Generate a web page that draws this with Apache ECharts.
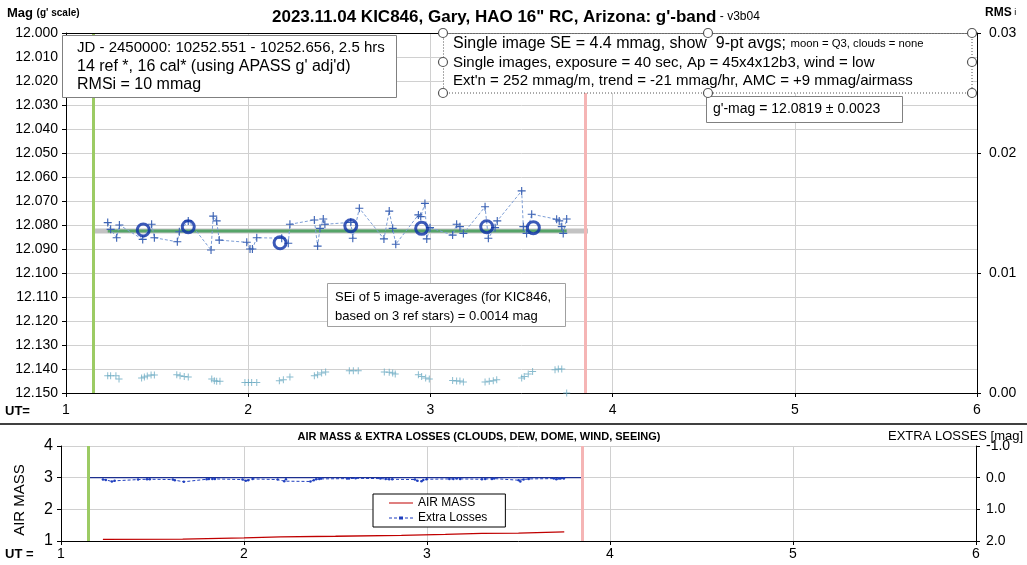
<!DOCTYPE html>
<html><head><meta charset="utf-8">
<script src="https://cdn.jsdelivr.net/npm/echarts@6/dist/echarts.min.js"></script>
<style>html,body{margin:0;padding:0;background:#fff}#c{width:1027px;height:565px}</style>
</head><body><div id="c"></div>
<script>
// ---- data ----
const obsUT = [1.229,1.245,1.278,1.293,1.421,1.470,1.485,1.611,1.622,1.671,1.796,1.808,1.827,1.841,1.992,2.010,2.023,2.047,2.184,2.220,2.229,2.363,2.381,2.394,2.412,2.421,2.563,2.574,2.610,2.745,2.774,2.793,2.810,2.934,2.947,2.970,2.980,2.998,3.122,3.144,3.162,3.181,3.300,3.318,3.355,3.367,3.501,3.510,3.528,3.556,3.693,3.707,3.721,3.729,3.748];
const obsMag = [12.0790,12.0818,12.0853,12.0800,12.0860,12.0797,12.0853,12.0870,12.0828,12.0783,12.0904,12.0763,12.0783,12.0863,12.0872,12.0900,12.0900,12.0853,12.0855,12.0876,12.0797,12.0779,12.0888,12.0814,12.0775,12.0797,12.0789,12.0855,12.0730,12.0858,12.0742,12.0814,12.0880,12.0758,12.0765,12.0710,12.0858,12.0811,12.0842,12.0797,12.0807,12.0835,12.0724,12.0855,12.0811,12.0783,12.0658,12.0807,12.0835,12.0755,12.0776,12.0783,12.0807,12.0835,12.0775];
const avgUT = [1.424,1.671,2.175,2.563,2.952,3.309,3.565];
const avgMag = [12.0821,12.0807,12.0874,12.0803,12.0814,12.0807,12.0811];
const rmsUT = [1.229,1.245,1.274,1.291,1.415,1.430,1.446,1.467,1.485,1.608,1.626,1.649,1.671,1.800,1.814,1.827,1.845,1.982,2.001,2.019,2.047,2.171,2.193,2.229,2.363,2.381,2.403,2.425,2.555,2.577,2.604,2.747,2.774,2.793,2.807,2.934,2.952,2.974,2.994,3.122,3.144,3.162,3.181,3.300,3.323,3.345,3.364,3.501,3.515,3.537,3.561,3.684,3.702,3.721,3.748];
const rmsVal = [0.00144,0.00144,0.00144,0.00117,0.00125,0.00133,0.00142,0.00150,0.00150,0.00153,0.00144,0.00138,0.00133,0.00117,0.00103,0.00097,0.00097,0.00088,0.00088,0.00088,0.00088,0.00103,0.00111,0.00133,0.00144,0.00153,0.00167,0.00175,0.00186,0.00186,0.00186,0.00175,0.00172,0.00167,0.00158,0.00153,0.00138,0.00125,0.00117,0.00105,0.00100,0.00100,0.00092,0.00092,0.00097,0.00103,0.00111,0.00125,0.00138,0.00158,0.00180,0.00194,0.00200,0.00200,0.00000];
const extraLoss = [0.06,0.07,0.12,0.10,0.06,0.05,0.05,0.06,0.08,0.13,0.05,0.04,0.04,0.04,0.06,0.10,0.08,0.04,0.06,0.11,0.05,0.12,0.08,0.05,0.04,0.03,0.03,0.03,0.02,0.03,0.04,0.05,0.05,0.06,0.10,0.11,0.07,0.05,0.04,0.04,0.03,0.04,0.05,0.04,0.04,0.03,0.08,0.12,0.06,0.04,0.03,0.05,0.03,0.03,0.03];
const amUT = [1.229,1.665,1.675,2.000,2.200,2.500,2.860,3.100,3.300,3.500,3.750];
const airMass = [1.05,1.06,1.09,1.10,1.13,1.15,1.18,1.21,1.24,1.25,1.29];
const startUT = 1.148, endUT = 3.85;
const meanMag = 12.0825;
const refUT = [1.148, 3.865];
const fitUT = [1.229, 3.748];
const magTicks = {min:12.0, max:12.15, step:0.01};
const rmsTicks = {min:0, max:0.03, step:0.01};

// ---- chart ----
const F = "'Liberation Sans', Arial, sans-serif";
const plus = 'path://M4.3,0H5.7V4.3H10V5.7H5.7V10H4.3V5.7H0V4.3H4.3Z';
const zip = (a,b) => a.map((v,i)=>[v,b[i]]);
const chart = echarts.init(document.getElementById('c'));
const axBlack = {show:true,onZero:false,lineStyle:{color:'#000',width:1}};
const tick = {show:true,length:4,lineStyle:{color:'#000'}};
const grayGrid = {show:true,lineStyle:{color:'#d0d0d0',width:1}};
const vlines = {silent:true,symbol:'none',label:{show:false},animation:false,
  data:[{xAxis:startUT,lineStyle:{color:'#9ccb64',width:3,type:'solid'}},
        {xAxis:endUT,lineStyle:{color:'#f5b5b5',width:3,type:'solid'}}]};
const iconSolid = 'path://M0,0L0.01,0M0,4.4H24V5.6H0ZM0,10L0.01,10';
const iconDash = 'path://M0,0L0.01,0M0,4.5H3V5.5H0ZM5,4.5H8V5.5H5ZM10,3.5H14V6.5H10ZM16,4.5H19V5.5H16ZM21,4.5H24V5.5H21ZM0,10L0.01,10';

const handles = [[443,33],[708,33],[972,33],[443,62],[972,62],[443,93],[708,93],[972,93]].map(p=>({
  type:'circle',shape:{cx:p[0],cy:p[1],r:4.5},style:{fill:'#fff',stroke:'#555',lineWidth:1.2},z:110}));

const txt = (x,y,text,size,opt={}) => Object.assign({type:'text',x:x,y:y,z:120,
  style:Object.assign({text:text,fontSize:size,fontFamily:F,fill:'#000',verticalAlign:'middle'},opt.style||{})},opt.el||{});

const option = {
  animation:false,
  backgroundColor:'#fff',
  grid:[{left:66,right:50,top:33,height:360},{left:61,right:51,top:446,height:95}],
  xAxis:[
    {gridIndex:0,type:'value',min:1,max:6,interval:1,axisLine:axBlack,axisTick:tick,
     axisLabel:{fontSize:14,color:'#000',fontFamily:F,margin:10},splitLine:grayGrid},
    {gridIndex:1,type:'value',min:1,max:6,interval:1,axisLine:axBlack,axisTick:tick,
     axisLabel:{fontSize:14,color:'#000',fontFamily:F,margin:6},splitLine:grayGrid}
  ],
  yAxis:[
    {gridIndex:0,type:'value',min:magTicks.min,max:magTicks.max,interval:magTicks.step,inverse:true,position:'left',
     axisLine:axBlack,axisTick:tick,splitLine:grayGrid,
     axisLabel:{fontSize:14,color:'#000',fontFamily:F,margin:8,formatter:v=>v.toFixed(3)}},
    {gridIndex:0,type:'value',min:rmsTicks.min,max:rmsTicks.max,interval:rmsTicks.step,position:'right',
     axisLine:axBlack,axisTick:tick,splitLine:{show:false},
     axisLabel:{fontSize:14,color:'#000',fontFamily:F,margin:12,formatter:v=>v.toFixed(2)}},
    {gridIndex:1,type:'value',min:1,max:4,interval:1,position:'left',
     axisLine:axBlack,axisTick:tick,splitLine:grayGrid,
     axisLabel:{fontSize:16,color:'#000',fontFamily:F,margin:8}},
    {gridIndex:1,type:'value',min:-1,max:2,interval:1,inverse:true,position:'right',
     axisLine:axBlack,axisTick:tick,splitLine:{show:false},
     axisLabel:{fontSize:14,color:'#000',fontFamily:F,margin:10,formatter:v=>v.toFixed(1)}}
  ],
  legend:{show:true,data:[{name:'AIR MASS',icon:iconSolid},{name:'Extra Losses',icon:iconDash}],
    orient:'vertical',left:373,top:494,
    borderColor:'#000',borderWidth:1,backgroundColor:'#fff',borderRadius:0,
    padding:[3,18,3,16],itemGap:3,itemWidth:24,itemHeight:10,
    textStyle:{fontSize:12,fontFamily:F,color:'#000'}},
  series:[
    {type:'line',xAxisIndex:0,yAxisIndex:0,data:zip(refUT,[meanMag,meanMag]),symbol:'none',
     lineStyle:{color:'#c3c3c3',width:5},z:2,silent:true,markLine:vlines},
    {type:'line',xAxisIndex:0,yAxisIndex:0,data:zip(fitUT,[meanMag,meanMag]),symbol:'none',
     lineStyle:{color:'#55a468',width:3},z:3,silent:true},
    {type:'line',xAxisIndex:0,yAxisIndex:0,data:zip(obsUT,obsMag),symbol:plus,symbolSize:8,showAllSymbol:true,
     itemStyle:{color:'#3b62b4'},lineStyle:{color:'#7d9ed6',width:1,type:[3,2]},z:4},
    {type:'scatter',xAxisIndex:0,yAxisIndex:0,data:zip(avgUT,avgMag),symbol:'circle',symbolSize:12,
     itemStyle:{color:'rgba(0,0,0,0)',borderColor:'#0a2fa6',borderWidth:3},z:6},
    {type:'scatter',xAxisIndex:0,yAxisIndex:1,data:zip(rmsUT,rmsVal),symbol:plus,symbolSize:7,
     itemStyle:{color:'#6aaac2'},z:5},
    {type:'line',xAxisIndex:1,yAxisIndex:3,data:zip([startUT,endUT],[0,0]),symbol:'none',
     lineStyle:{color:'#1c2f8e',width:1.3},z:2,silent:true,markLine:vlines},
    {name:'AIR MASS',type:'line',xAxisIndex:1,yAxisIndex:2,data:zip(amUT,airMass),symbol:'none',
     itemStyle:{color:'#c00000'},lineStyle:{color:'#c00000',width:1.3},z:4},
    {name:'Extra Losses',type:'line',xAxisIndex:1,yAxisIndex:3,data:zip(obsUT,extraLoss),symbol:'circle',symbolSize:2.5,
     showAllSymbol:true,itemStyle:{color:'#1f3fbf'},lineStyle:{color:'#1f3fbf',width:1,type:[3,2]},z:5}
  ],
  graphic:[
    {type:'line',shape:{x1:0,y1:424,x2:1027,y2:424},style:{stroke:'#000',lineWidth:1.5},z:100},
    {type:'line',shape:{x1:66,y1:33.5,x2:977,y2:33.5},style:{stroke:'#000',lineWidth:1},z:100},
    {type:'text',x:272,y:17,z:120,style:{text:'{a|2023.11.04 KIC846, Gary, HAO 16" RC, Arizona: g\'-band}{b| - v3b04}',
      verticalAlign:'middle',rich:{a:{fontSize:17,fontWeight:'bold',fontFamily:F,fill:'#000'},b:{fontSize:12,fontFamily:F,fill:'#000'}}}},
    {type:'text',x:7,y:13,z:120,style:{text:'{a|Mag }{b|(g\' scale)}',verticalAlign:'middle',
      rich:{a:{fontSize:13,fontWeight:'bold',fontFamily:F,fill:'#000'},b:{fontSize:10,fontWeight:'bold',fontFamily:F,fill:'#000'}}}},
    {type:'text',x:985,y:13,z:120,style:{text:'{a|RMS}{b| i}',verticalAlign:'middle',
      rich:{a:{fontSize:12,fontWeight:'bold',fontFamily:F,fill:'#000'},b:{fontSize:9,fontFamily:F,fill:'#000'}}}},
    txt(5,411,'UT=',13,{style:{fontWeight:'bold'}}),
    txt(5,554,'UT =',13,{style:{fontWeight:'bold'}}),
    {type:'rect',shape:{x:62.5,y:35.5,width:334,height:62},style:{fill:'#fff',stroke:'#808080',lineWidth:1},z:105},
    txt(77,47.5,'JD - 2450000: 10252.551 - 10252.656, 2.5 hrs',15),
    txt(77,67,"14 ref *, 16 cal* (using APASS g' adj'd)",16),
    txt(77,85,'RMSi = 10 mmag',16),
    {type:'rect',shape:{x:443.5,y:33.5,width:528.5,height:59.5},style:{fill:'#fff',stroke:'#555',lineWidth:1,lineDash:[1,2]},z:105},
    ...handles,
    {type:'text',x:453,y:44,z:120,style:{text:'{a|Single image SE = 4.4 mmag, show  9-pt avgs; }{b|moon = Q3, clouds = none}',verticalAlign:'middle',
      rich:{a:{fontSize:16,fontFamily:F,fill:'#000'},b:{fontSize:11.3,fontFamily:F,fill:'#000'}}}},
    txt(453,62.5,'Single images, exposure = 40 sec, Ap = 45x4x12b3, wind = low',15),
    txt(453,81,"Ext'n = 252 mmag/m, trend = -21 mmag/hr, AMC = +9 mmag/airmass",15),
    {type:'rect',shape:{x:706.5,y:96.5,width:196,height:26},style:{fill:'#fff',stroke:'#808080',lineWidth:1},z:105},
    txt(713,109.5,"g'-mag = 12.0819 \u00b1 0.0023",14),
    {type:'rect',shape:{x:327.5,y:283.5,width:238,height:43},style:{fill:'#fff',stroke:'#a0a0a0',lineWidth:1},z:105},
    txt(335,297,'SEi of 5 image-averages (for KIC846,',13),
    txt(335,316,'based on 3 ref stars) = 0.0014 mag',13),
    {type:'text',x:479,y:437,z:120,style:{text:'AIR MASS & EXTRA LOSSES (CLOUDS, DEW, DOME, WIND, SEEING)',fontSize:11,fontWeight:'bold',
      fontFamily:F,fill:'#000',align:'center',verticalAlign:'middle'}},
    txt(888,436,'EXTRA LOSSES [mag]',13),
    {type:'text',x:20,y:500,rotation:Math.PI/2,z:120,style:{text:'AIR MASS',fontSize:15,fontFamily:F,fill:'#000',align:'center',verticalAlign:'middle'}}
  ]
};
chart.setOption(option);
</script></body></html>
